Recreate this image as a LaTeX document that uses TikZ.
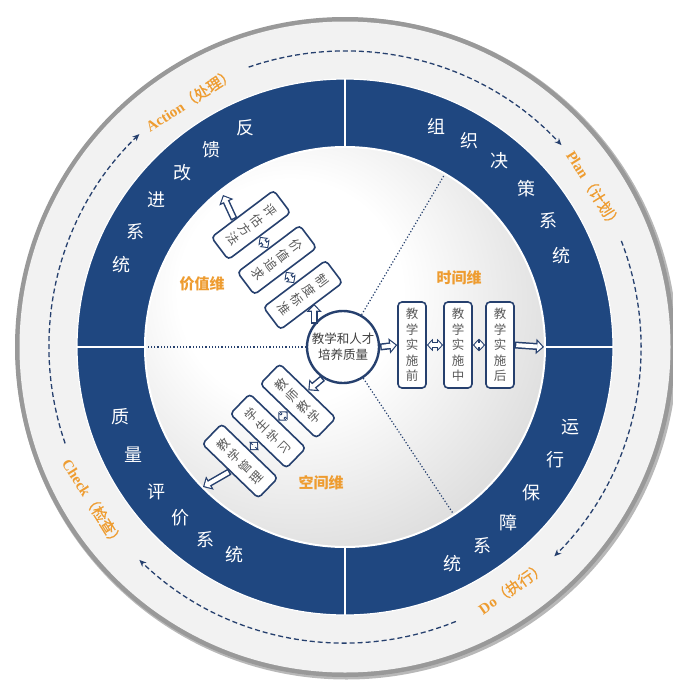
\documentclass[tikz,border=0pt]{standalone}
\usepackage{fontspec}
\setmainfont{Liberation Serif}
\newfontfamily\cjk{Noto Sans CJK SC}
\newfontfamily\cjkpd[FakeBold=0.8]{Noto Sans CJK SC}
\usetikzlibrary{arrows.meta,calc}
\definecolor{ringblue}{RGB}{31,71,128}
\definecolor{navy}{RGB}{38,64,110}
\definecolor{orng}{RGB}{238,156,48}
\definecolor{boxtext}{RGB}{90,90,90}
\pgfdeclareradialshading{innerdisc}{\pgfpoint{-8bp}{8bp}}{color(0bp)=(white); color(14bp)=(white); color(50bp)=(black!25); color(100bp)=(black!25)}
\begin{document}
\begin{tikzpicture}[x=1pt,y=1pt,
 ringch/.style={text=white, font=\cjk\fontsize{18}{18}\selectfont, inner sep=0pt},
 pdca/.style={text=orng, font=\bfseries\fontsize{15}{15}\selectfont, inner sep=0pt},
 dimlbl/.style={text=orng, font=\cjk\bfseries\fontsize{15}{15}\selectfont, inner sep=0pt},
 vbox/.style={draw=navy, line width=1.6pt, rounded corners=4pt, fill=white, minimum width=28pt, inner sep=0pt, align=center, text=boxtext, font=\cjk\fontsize{12.5}{15.5}\selectfont},
 hout/.style={draw=navy, line width=7pt, -{Triangle[length=8pt,width=15pt]}},
 hin/.style={draw=white, line width=4pt, shorten <=1.5pt, shorten >=1.7pt, -{Triangle[length=5pt,width=9.5pt]}},
 dout/.style={draw=navy, line width=6pt, {Triangle[length=6pt,width=12pt]}-{Triangle[length=6pt,width=12pt]}},
 din/.style={draw=white, line width=3.4pt, shorten <=1.5pt, shorten >=1.5pt, {Triangle[length=3.6pt,width=7.4pt]}-{Triangle[length=3.6pt,width=7.4pt]}},
 dashline/.style={draw=navy, line width=1.3pt, dash pattern=on 5pt off 3pt, -{Stealth[length=7pt,width=6pt]}},
 dotline/.style={draw=navy, line width=1.2pt, dotted}]
\useasboundingbox (0,0) rectangle (672,-680);
\coordinate (O) at (345,-347);
% outer disc and rim
\fill[black!28] ($(O)+(1.5,-1.5)$) circle[radius=331pt];
\fill[black!40] (O) circle[radius=330pt];
\fill[black!5] (O) circle[radius=325.5pt];
% blue ring
\fill[ringblue] (O) circle[radius=268pt];
\draw[white, line width=1.2pt] (O) circle[radius=268pt];
\shade[shading=innerdisc] (O) circle[radius=200pt];
\draw[white, line width=2pt] (O) circle[radius=200pt];
\foreach \a in {0,90,180,270}
  \draw[white, line width=2pt] ($(O)+(\a:200pt)$) -- ($(O)+(\a:268pt)$);
% PDCA dashed cycle
\draw[dashline] ($(O)+(109:296pt)$) arc[start angle=109, end angle=43, radius=296pt];
\draw[dashline] ($(O)+(21:296pt)$) arc[start angle=21, end angle=-45, radius=296pt];
\draw[dashline] ($(O)+(-68:296pt)$) arc[start angle=-68, end angle=-134, radius=296pt];
\draw[dashline] ($(O)+(199:296pt)$) arc[start angle=199, end angle=134, radius=296pt];
\node[pdca, rotate=33] (act) at (190,-100) {Action{\cjkpd\mdseries（处理）}};
\node[pdca, rotate=-58] (plan) at (594,-190) {Plan{\cjkpd\mdseries（计划）}};
\node[pdca, rotate=35] (do) at (512,-588) {Do{\cjkpd\mdseries（执行）}};
\node[pdca, rotate=-58] (chk) at (93,-503) {Check{\cjkpd\mdseries（检查）}};
% ring characters
\node[ringch] (a1) at (245,-128) {反};
\node[ringch] (a2) at (211,-150) {馈};
\node[ringch] (a3) at (182,-173) {改};
\node[ringch] (a4) at (156,-200) {进};
\node[ringch] (a5) at (135,-232) {系};
\node[ringch] (a6) at (121,-265) {统};
\node[ringch] (p1) at (436,-126) {组};
\node[ringch] (p2) at (469,-141) {织};
\node[ringch] (p3) at (499,-161) {决};
\node[ringch] (p4) at (526,-189) {策};
\node[ringch] (p5) at (548,-221) {系};
\node[ringch] (p6) at (561,-256) {统};
\node[ringch] (d1) at (570,-427) {运};
\node[ringch] (d2) at (555,-460) {行};
\node[ringch] (d3) at (531,-493) {保};
\node[ringch] (d4) at (508,-523) {障};
\node[ringch] (d5) at (482,-546) {系};
\node[ringch] (d6) at (452,-564) {统};
\node[ringch] (k1) at (120,-417) {质};
\node[ringch] (k2) at (133,-455) {量};
\node[ringch] (k3) at (156,-492) {评};
\node[ringch] (k4) at (180,-518) {价};
\node[ringch] (k5) at (205,-540) {系};
\node[ringch] (k6) at (234,-555) {统};
% centre
\node[circle, draw=navy, line width=2.4pt, fill=white, minimum size=72pt, inner sep=0pt, align=center, text=black!75, font=\cjk\fontsize{12.5}{16}\selectfont] (c) at (343,-347) {教学和人才\\培养质量};
\draw[dotline] (c.180) -- ($(O)+(180:199pt)$);
\draw[dotline] (c.60) -- ($(O)+(60:199pt)$);
\draw[dotline] (c.-57) -- ($(O)+(-57:199pt)$);
% dimension labels
\node[dimlbl] (lv) at (202,-284) {价值维};
\node[dimlbl] (lt) at (459,-278) {时间维};
\node[dimlbl] (ls) at (321,-483) {空间维};
% time dimension
\node[vbox, minimum height=86pt] (t1) at (412,-345) {教\\学\\实\\施\\前};
\node[vbox, minimum height=86pt] (t2) at (458,-345) {教\\学\\实\\施\\中};
\node[vbox, minimum height=86pt] (t3) at (500,-345) {教\\学\\实\\施\\后};
\coordinate (tout) at ($(O)+(0:199pt)$);
\draw[hout] (c.east) -- (t1.west);
\draw[hin] (c.east) -- (t1.west);
\draw[dout] (t1.east) -- (t2.west);
\draw[din] (t1.east) -- (t2.west);
\draw[dout] (t2.east) -- (t3.west);
\draw[din] (t2.east) -- (t3.west);
\draw[hout] (t3.east) -- (tout);
\draw[hin] (t3.east) -- (tout);
% value dimension
\node[vbox, minimum height=78pt, rotate=-53] (v1) at (251,-225) {评\\估\\方\\法};
\node[vbox, minimum height=78pt, rotate=-53] (v2) at (277,-260) {价\\值\\追\\求};
\node[vbox, minimum height=78pt, rotate=-53] (v3) at (303,-295) {制\\度\\标\\准};
\coordinate (vout) at (223,-195);
\coordinate (vst) at ($(v1.west)!0.25!(v1.south west)$);
\coordinate (ve) at ($(v3.east)!0.12!(v3.north east)$);
\draw[hout] (c.141) -- (c.141 |- ve);
\draw[hin] (c.141) -- (c.141 |- ve);
\draw[dout] (v3) -- (v2);
\draw[din] (v3) -- (v2);
\draw[dout] (v2) -- (v1);
\draw[din] (v2) -- (v1);
\draw[hout] (vst) -- (vout);
\draw[hin] (vst) -- (vout);
% space dimension
\node[vbox, minimum height=78pt, rotate=46] (s1) at (298,-401) {教\\师\\教\\学};
\node[vbox, minimum height=78pt, rotate=46] (s2) at (268,-431) {学\\生\\学\\习};
\node[vbox, minimum height=78pt, rotate=46] (s3) at (240,-461) {教\\学\\管\\理};
\coordinate (sout) at (203,-487);
\draw[hout] (c.237) -- (s1.east);
\draw[hin] (c.237) -- (s1.east);
\draw[dout] (s1) -- (s2);
\draw[din] (s1) -- (s2);
\draw[dout] (s2) -- (s3);
\draw[din] (s2) -- (s3);
\draw[hout] (s3.west) -- (sout);
\draw[hin] (s3.west) -- (sout);
\end{tikzpicture}
\end{document}
